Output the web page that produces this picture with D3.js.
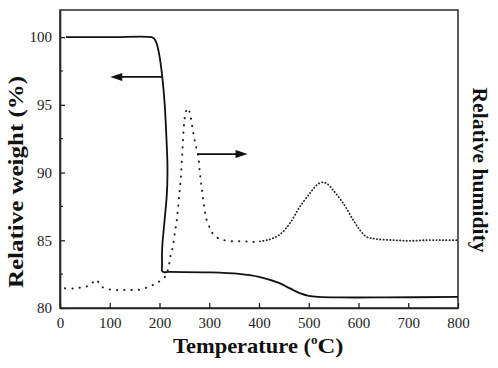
<!DOCTYPE html>
<html>
<head>
<meta charset="utf-8">
<script src="https://cdn.jsdelivr.net/npm/d3@7/dist/d3.min.js"></script>
<style>
  html, body { margin: 0; padding: 0; background: #fff; }
  svg { display: block; }
</style>
</head>
<body>
<svg id="chart" width="498" height="368"></svg>
<script>
// ---- data ----
const xTicks = [0, 100, 200, 300, 400, 500, 600, 700, 800];
const yTicks = [80, 85, 90, 95, 100];
const yMinorTicks = [82.5, 87.5, 92.5, 97.5];

const weightT = [12, 100, 184, 189, 194, 200, 205.6, 210.5, 214, 216, 215.5, 214, 211, 208.5, 206, 205, 205.2, 206, 220, 300, 360, 400, 440, 462, 482, 500, 520, 560, 650, 800];
const weight  = [100, 100, 100, 99.9, 99.55, 98.6, 97.06, 95, 92.5, 90.5, 89, 88, 86.8, 85.8, 84.8, 84, 83.2, 82.68, 82.66, 82.63, 82.52, 82.3, 81.85, 81.45, 81.1, 80.9, 80.82, 80.78, 80.78, 80.82];

const humT = [10, 27, 40, 52, 64, 72, 79, 87, 104, 121, 134, 149, 164, 178, 191, 201, 211, 218, 222, 226.5, 231, 234.5, 237.8, 240, 242.6, 244.6, 246.6, 248.5, 250.5, 253.5, 257.5, 261.3, 266, 271.4, 278, 281.4, 285.4, 290, 294, 301.5, 307, 315, 325, 335, 355, 372, 388, 402,
              422, 442, 462, 482, 502, 516, 526, 536, 549, 569.5, 589.5, 603, 616, 636, 670, 703, 737, 770, 800];
const humidity = [81.45, 81.45, 81.5, 81.57, 81.82, 82.1, 81.82, 81.5, 81.35, 81.33, 81.33, 81.33, 81.38, 81.57, 81.77, 82.0, 82.3, 83.0, 83.8, 84.5, 85.6, 86.4, 87.6, 88.5, 89.44, 90.67, 92.0, 93.2, 94.0, 94.55, 94.75, 94.36, 93.37, 92.26, 91.16, 89.93, 88.7, 87.47, 86.6, 85.88, 85.5, 85.21, 85.07, 84.96, 84.92, 84.92, 84.88, 84.92,
                  85.07, 85.43, 86.25, 87.47, 88.46, 89.07, 89.27, 89.2, 88.7, 87.72, 86.49, 85.75, 85.26, 85.09, 85.01, 84.96, 85.01, 85.01, 85.01];
const humSplitT = 402; // sparse dots before, dense after

// arrows: [start T, tip T, level]
const arrowStartT = [205, 276];
const arrowTipT   = [101, 377];
const arrowLevel  = [97.06, 91.36];

// ---- font pick ----
function pickFont(cands) {
  const c = document.createElement("canvas").getContext("2d");
  const s = "Temperature Relative 0123456789";
  for (const f of cands) {
    for (const base of ["monospace", "sans-serif"]) {
      c.font = `20px ${base}`; const w0 = c.measureText(s).width;
      c.font = `20px "${f}", ${base}`; const w1 = c.measureText(s).width;
      if (Math.abs(w1 - w0) > 0.5) return `"${f}", serif`;
    }
  }
  return "serif";
}
const FONT = pickFont(["Liberation Serif", "Times New Roman", "Tinos", "Nimbus Roman", "DejaVu Serif", "Noto Serif"]);

// ---- layout ----
const svg = d3.select("#chart");
const M = {left: 60, right: 458, top: 10, bottom: 308};
const x = d3.scaleLinear().domain([0, 800]).range([M.left, M.right]);
const y = d3.scaleLinear().domain([80, 102]).range([M.bottom, M.top]);
const yR = d3.scaleLinear().domain([80, 102]).range([M.bottom, M.top]);

// frame
svg.append("rect")
  .attr("x", M.left).attr("y", M.top)
  .attr("width", M.right - M.left).attr("height", M.bottom - M.top)
  .attr("fill", "none").attr("stroke", "#333").attr("stroke-width", 1.6);

// x axis
const xAxis = d3.axisBottom(x).tickValues(xTicks).tickSizeInner(-5).tickSizeOuter(0).tickPadding(9).tickFormat(d3.format("d"));
const gx = svg.append("g").attr("transform", `translate(0,${M.bottom})`).call(xAxis);
gx.attr("font-family", FONT);
gx.select(".domain").attr("stroke", "#222").attr("stroke-width", 1.6);
gx.selectAll(".tick line").attr("stroke", "#222").attr("stroke-width", 1.3);
gx.selectAll(".tick text").attr("font-size", 15).attr("fill", "#222").attr("dy", "0.71em");

// y axis left
const yAxis = d3.axisLeft(y).tickValues(yTicks).tickSizeInner(-5).tickSizeOuter(0).tickPadding(8).tickFormat(d3.format("d"));
const gy = svg.append("g").attr("transform", `translate(${M.left},0)`).call(yAxis);
gy.attr("font-family", FONT);
gy.select(".domain").attr("stroke", "#222").attr("stroke-width", 1.6);
gy.selectAll(".tick line").attr("stroke", "#222").attr("stroke-width", 1.3);
gy.selectAll(".tick text").attr("font-size", 15).attr("fill", "#222");

// minor y ticks
svg.append("g").selectAll("line").data(yMinorTicks).join("line")
  .attr("x1", M.left).attr("x2", M.left + 3)
  .attr("y1", d => y(d)).attr("y2", d => y(d))
  .attr("stroke", "#222").attr("stroke-width", 1.2);

// weight curve
const wData = weightT.map((t, i) => [t, weight[i]]);
const lineW = d3.line().x(d => x(d[0])).y(d => y(d[1])).curve(d3.curveCatmullRom.alpha(0.5));
svg.append("path").datum(wData).attr("d", lineW)
  .attr("fill", "none").attr("stroke", "#111").attr("stroke-width", 1.8);

// humidity curve (dotted)
const hData = humT.map((t, i) => [t, humidity[i]]);
const lineH = d3.line().x(d => x(d[0])).y(d => yR(d[1])).curve(d3.curveCatmullRom.alpha(0.5));
svg.append("path").datum(hData.filter(d => d[0] <= humSplitT)).attr("d", lineH)
  .attr("fill", "none").attr("stroke", "#222").attr("stroke-width", 2)
  .attr("stroke-linecap", "round").attr("stroke-dasharray", "0.3,7");
svg.append("path").datum(hData.filter(d => d[0] >= humSplitT)).attr("d", lineH)
  .attr("fill", "none").attr("stroke", "#222").attr("stroke-width", 1.8)
  .attr("stroke-linecap", "round").attr("stroke-dasharray", "0.3,3");

// arrows
arrowStartT.forEach((s, i) => {
  const x1 = x(s), x2 = x(arrowTipT[i]), yy = y(arrowLevel[i]);
  const dir = Math.sign(x2 - x1);
  const headLen = 12, headHalf = 4;
  svg.append("line")
    .attr("x1", x1).attr("x2", x2 - dir * headLen * 0.8)
    .attr("y1", yy).attr("y2", yy)
    .attr("stroke", "#111").attr("stroke-width", 1.6);
  svg.append("path")
    .attr("d", `M${x2},${yy} L${x2 - dir * headLen},${yy - headHalf} L${x2 - dir * headLen},${yy + headHalf} Z`)
    .attr("fill", "#111");
});

// axis titles
const xt = svg.append("text")
  .attr("x", 173).attr("y", 353)
  .attr("text-anchor", "start")
  .attr("font-family", FONT)
  .attr("font-size", 22).attr("font-weight", "bold").attr("fill", "#111");
xt.append("tspan").text("Temperature (").attr("textLength", 138).attr("lengthAdjust", "spacingAndGlyphs");
xt.append("tspan").text("o").attr("font-size", 13).attr("dy", -9);
xt.append("tspan").text("C)").attr("dy", 9).attr("textLength", 26).attr("lengthAdjust", "spacingAndGlyphs");

svg.append("text")
  .attr("transform", "translate(23,182) rotate(-90)")
  .attr("text-anchor", "middle")
  .attr("font-family", FONT)
  .attr("font-size", 22).attr("font-weight", "bold").attr("fill", "#111")
  .attr("textLength", 212).attr("lengthAdjust", "spacingAndGlyphs")
  .text("Relative weight (%)");

svg.append("text")
  .attr("transform", "translate(473,170) rotate(90)")
  .attr("text-anchor", "middle")
  .attr("font-family", FONT)
  .attr("font-size", 20).attr("font-weight", "bold").attr("fill", "#111")
  .attr("textLength", 165).attr("lengthAdjust", "spacingAndGlyphs")
  .text("Relative humidity");
</script>
</body>
</html>
